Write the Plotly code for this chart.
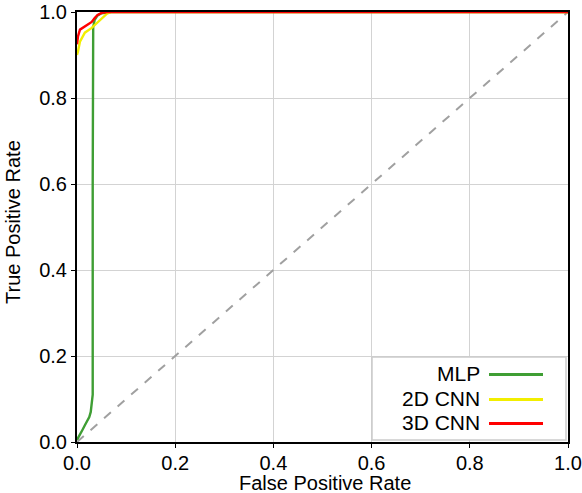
import plotly.graph_objects as go

# ---- data ----
series_names = ["MLP", "2D CNN", "3D CNN"]
series_colors = ["#3f9e34", "#f2ee00", "#ff0000"]

mlp_fpr = [0.0, 0.006, 0.011, 0.016, 0.020, 0.025, 0.028, 0.030, 0.031, 0.032, 0.032, 0.033, 0.036, 0.042, 0.050, 0.070, 1.0]
mlp_tpr = [0.005, 0.016, 0.028, 0.039, 0.047, 0.058, 0.070, 0.085, 0.092, 0.11, 0.60, 0.965, 0.982, 0.992, 0.997, 1.0, 1.0]

cnn2d_fpr = [0.0, 0.002, 0.006, 0.016, 0.030, 0.041, 0.051, 0.061, 0.070, 1.0]
cnn2d_tpr = [0.90, 0.908, 0.931, 0.952, 0.963, 0.975, 0.986, 0.996, 1.0, 1.0]

cnn3d_fpr = [0.0, 0.002, 0.006, 0.012, 0.022, 0.030, 0.036, 0.042, 0.050, 0.062, 1.0]
cnn3d_tpr = [0.925, 0.943, 0.959, 0.963, 0.970, 0.977, 0.986, 0.993, 0.998, 1.0, 1.0]

diag_x = [0.0, 1.0]
diag_y = [0.0, 1.0]

tick_vals = [0.0, 0.2, 0.4, 0.6, 0.8, 1.0]
tick_text = ["0.0", "0.2", "0.4", "0.6", "0.8", "1.0"]

x_title = "False Positive Rate"
y_title = "True Positive Rate"

FONT = "Liberation Sans, Arial, sans-serif"
FS = 20

L, R, T, B = 77, 14, 12, 51
W, H = 582, 493
PW = W - L - R
PH = H - T - B

fig = go.Figure()

fig.add_trace(go.Scatter(x=diag_x, y=diag_y, mode="lines",
                         line=dict(color="#a0a0a0", width=2, dash="dash"),
                         showlegend=False, hoverinfo="skip"))

curves = [(mlp_fpr, mlp_tpr), (cnn2d_fpr, cnn2d_tpr), (cnn3d_fpr, cnn3d_tpr)]
for (fx, ty), name, col in zip(curves, series_names, series_colors):
    fig.add_trace(go.Scatter(x=fx, y=ty, mode="lines", name=name,
                             line=dict(color=col, width=2.4),
                             showlegend=False))

axis_common = dict(
    range=[0, 1], tickvals=tick_vals, ticktext=tick_text,
    showgrid=True, gridcolor="#d3d3d3", gridwidth=1,
    showline=True, linecolor="black", linewidth=2, mirror=True,
    ticks="outside", ticklen=4, tickwidth=1, tickcolor="black",
    zeroline=False, ticklabeloverflow="allow", automargin=False,
    tickfont=dict(family=FONT, size=FS, color="black"),
)

fig.update_layout(
    width=W, height=H,
    margin=dict(l=L, r=R, t=T, b=B),
    paper_bgcolor="white", plot_bgcolor="white",
    font=dict(family=FONT, color="black"),
    xaxis=dict(**axis_common, ticklabelstandoff=-2),
    yaxis=dict(**axis_common),
    showlegend=False,
)

def px_x(p):
    return (p - L) / PW

def px_y(p):
    return (H - B - p) / PH

# axis titles
fig.add_annotation(xref="paper", yref="paper", x=px_x(325), y=px_y(483),
                   text=x_title, showarrow=False, xanchor="center", yanchor="middle",
                   font=dict(family=FONT, size=FS, color="black"))
fig.add_annotation(xref="paper", yref="paper", x=px_x(13), y=px_y(222),
                   text=y_title, showarrow=False, xanchor="center", yanchor="middle",
                   textangle=-90, font=dict(family=FONT, size=FS, color="black"))

# ---- custom legend (text left of line, bottom right) ----
fig.add_shape(type="rect", xref="paper", yref="paper",
              x0=px_x(372), x1=px_x(566), y0=px_y(440), y1=px_y(357),
              line=dict(color="#cccccc", width=1.5), fillcolor="white", layer="above")

entry_y = [373.5, 398.5, 422.5]
for name, col, yy in zip(series_names, series_colors, entry_y):
    fig.add_annotation(xref="paper", yref="paper", x=px_x(482), y=px_y(yy),
                       text=name, showarrow=False, xanchor="right", yanchor="middle",
                       font=dict(family=FONT, size=21, color="black"))
    fig.add_shape(type="line", xref="paper", yref="paper",
                  x0=px_x(489), x1=px_x(543), y0=px_y(yy + 1), y1=px_y(yy + 1),
                  line=dict(color=col, width=2.8), layer="above")

fig.write_html("out.html")
